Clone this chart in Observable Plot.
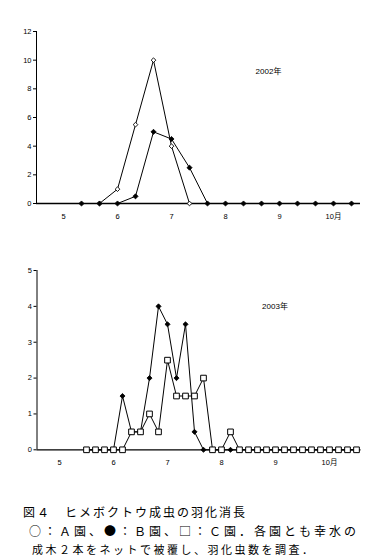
<!DOCTYPE html>
<html><head><meta charset="utf-8">
<script src="https://cdn.jsdelivr.net/npm/d3@7"></script>
<script src="https://cdn.jsdelivr.net/npm/@observablehq/plot@0.6"></script>
<style>
body{margin:0;background:#fff;}
#wrap{position:relative;width:374px;height:556px;overflow:hidden;background:#fff;}
.p{position:absolute;left:0;}
.cap{position:absolute;white-space:nowrap;font-family:"Noto Sans CJK JP","Noto Sans CJK SC",sans-serif;color:#000;line-height:16px;}
</style></head><body>
<div id="wrap">
<div id="c1" class="p" style="top:0px"></div>
<div id="c2" class="p" style="top:235px"></div>
<div class="cap" style="left:23px;top:504px;font-size:12px;letter-spacing:2px">図４　ヒメボクトウ成虫の羽化消長</div>
<div class="cap" style="left:29px;top:523px;font-size:12px;letter-spacing:3px">○：Ａ園、●：Ｂ園、□：Ｃ園．各園とも幸水の</div>
<div class="cap" style="left:32px;top:541px;font-size:11px;letter-spacing:2.5px">成木２本をネットで被覆し、羽化虫数を調査．</div>
</div>
<script>
// ---- 2002 (dekad categories, 3 per month) ----
const cats2002 = [0,1,2,3,4,5,6,7,8,9,10,11,12,13,14,15];
const A2002 = [null,0,1,5.5,10,4,0,null,null,null,null,null,null,null,null,null];
const B2002 = [0,0,0,0.5,5,4.5,2.5,0,0,0,0,0,0,0,0,0];
const tickPos2002 = [-1,2,5,8,11,14];
const tickLabels2002 = ["5","6","7","8","9","10月"];
const yTicks2002 = [0,2,4,6,8,10,12];

// ---- 2003 (pentad categories, 6 per month) ----
const cats2003 = [0,1,2,3,4,5,6,7,8,9,10,11,12,13,14,15,16,17,18,19,20,21,22,23,24,25,26,27,28,29,30];
const B2003 = [0,0,0,0,1.5,0.5,0.5,2,4,3.5,2,3.5,0.5,0,0,0,0,0,0,0,0,0,0,0,0,0,0,0,0,0,0];
const C2003 = [0,0,0,0,0,0.5,0.5,1,0.5,2.5,1.5,1.5,1.5,2,0,0,0.5,0,0,0,0,0,0,0,0,0,0,0,0,0,0];
const tickPos2003 = [-3,3,9,15,21,27];
const tickLabels2003 = ["5","6","7","8","9","10月"];
const yTicks2003 = [0,1,2,3,4,5];

function rows(cats, vals){ return cats.map((c,i)=>({x:c, y:vals[i]})).filter(d=>d.y!=null); }

function panel(o){
  const marks = [
    Plot.ruleY([0], {stroke:"#000", strokeWidth:1.3}),
    Plot.ruleX([o.xDomain[0]], {stroke:"#000", strokeWidth:1}),
    Plot.axisY({ticks:o.yTicks, tickFormat:d=>String(d), tickSize:3, tickPadding:2, label:null, fontSize:7.5}),
    Plot.axisX({ticks:o.tickPos, tickFormat:d=>o.tickLabels[o.tickPos.indexOf(d)], tickSize:0, tickPadding:10, label:null, fontSize:7.5}),
    Plot.text([o.title], {frameAnchor:"top-left", dx:o.tdx, dy:o.tdy, textAnchor:"middle", fontSize:8, fill:"#000"})
  ];
  for (const s of o.series){
    const data = rows(o.cats, s.vals);
    marks.push(Plot.line(data, {x:"x", y:"y", stroke:"#000", strokeWidth:1}));
  }
  for (const s of o.series){
    const data = rows(o.cats, s.vals);
    marks.push(Plot.dot(data, {x:"x", y:"y", symbol:s.symbol, r:s.r, fill:s.fill, stroke:"#000", strokeWidth:s.sw}));
  }
  return Plot.plot({
    width:374, height:o.height,
    marginTop:o.mt, marginBottom:o.mb, marginLeft:o.ml, marginRight:o.mr,
    x:{domain:o.xDomain, axis:null},
    y:{domain:[0, o.yTicks[o.yTicks.length-1]], axis:null},
    style:{fontFamily:"'Liberation Sans','Noto Sans CJK JP',sans-serif", fontSize:"7.5px", color:"#000", background:"#fff"},
    marks
  });
}

document.getElementById("c1").append(panel({
  cats:cats2002, xDomain:[-2.5,15.5], tickPos:tickPos2002, tickLabels:tickLabels2002, yTicks:yTicks2002,
  title:"2002年", tdx:232, tdy:37,
  height:230, mt:31, mb:27, ml:36, mr:14,
  series:[
    {vals:A2002, symbol:"diamond2", r:2.1, fill:"#fff", sw:0.9},
    {vals:B2002, symbol:"diamond2", r:2.3, fill:"#000", sw:0.8}
  ]
}));

document.getElementById("c2").append(panel({
  cats:cats2003, xDomain:[-5.5,30.5], tickPos:tickPos2003, tickLabels:tickLabels2003, yTicks:yTicks2003,
  title:"2003年", tdx:238, tdy:33,
  height:245, mt:35, mb:30.7, ml:36.5, mr:13.5,
  series:[
    {vals:B2003, symbol:"diamond2", r:2.3, fill:"#000", sw:0.8},
    {vals:C2003, symbol:"square", r:3.2, fill:"#fff", sw:1}
  ]
}));
</script>
</body></html>
